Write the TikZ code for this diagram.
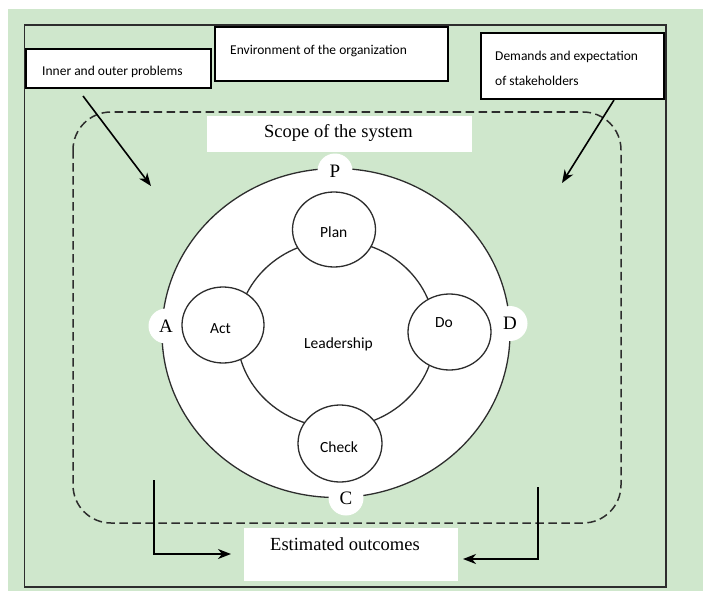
\documentclass[tikz,border=0pt]{standalone}
\usepackage{fontspec}
\setmainfont{Liberation Serif}
\newfontfamily\calfont{Carlito}
\usetikzlibrary{shapes.geometric,arrows.meta}
\definecolor{bggreen}{RGB}{207,231,204}
\definecolor{linegray}{RGB}{45,45,45}
\begin{document}
\begin{tikzpicture}[x=1pt,y=-1pt,
  tbox/.style={draw=black, line width=2.4pt, fill=white, rectangle, inner sep=0pt},
  smalltxt/.style={font=\calfont\fontsize{13.5}{16}\selectfont, inner sep=0pt, anchor=base west},
  midtxt/.style={font=\calfont\fontsize{15.5}{18}\selectfont, inner sep=0pt, anchor=base west},
  seriftxt/.style={font=\fontsize{18.5}{22}\selectfont, inner sep=0pt, anchor=base west},
  ring/.style={draw=linegray, line width=1.3pt, ellipse, inner sep=0pt},
  pdca/.style={ring, fill=white},
  bump/.style={circle, fill=white, minimum size=35pt, inner sep=0pt, font=\fontsize{19}{22}\selectfont},
  arr/.style={line width=1.6pt, -{Stealth[length=13pt,width=10pt,inset=4pt]}}
]
\useasboundingbox (0,0) rectangle (703,591);
\fill[bggreen] (8,9) rectangle (703,591);
\draw[linegray, line width=1.5pt] (24.5,25) rectangle (666,587);

% scope
\draw[linegray, line width=1.5pt, dash pattern=on 8.5pt off 4.5pt, rounded corners=38pt] (73,112) rectangle (621,523);
\node[fill=white, minimum width=265pt, minimum height=36pt, inner sep=0pt] (scopebox) at (339.5,134) {};
\node[seriftxt] (scopetxt) at (264,137) {Scope of the system};

% big circle
\node[ring, fill=white, minimum width=348pt, minimum height=329pt] (outer) at (336,333) {};
\node[bump] (P) at (335,171) {P};
\node[bump] (A) at (166,326) {A};
\node[bump] (D) at (510,323.5) {D};
\node[bump] (C) at (346,498) {C};

% ring
\node[ring, minimum width=198pt, minimum height=187pt] (ringel) at (336,334) {};
\node[midtxt] (lead) at (304,348) {Leadership};

% PDCA circles
\node[pdca, minimum width=83pt, minimum height=75pt] (plan) at (334,229.5) {};
\node[pdca, minimum width=82pt, minimum height=76pt] (act) at (223,325) {};
\node[pdca, minimum width=83pt, minimum height=76pt] (do) at (449.5,332) {};
\node[pdca, minimum width=84pt, minimum height=77pt] (check) at (340,443.5) {};
\node[midtxt] (plantxt) at (320,237) {Plan};
\node[midtxt] (acttxt) at (210,333) {Act};
\node[midtxt] (dotxt) at (435,327) {Do};
\node[midtxt] (checktxt) at (320,452) {Check};

% top boxes
\node[tbox, minimum width=185pt, minimum height=39pt] (innerbox) at (118.5,68.5) {};
\node[smalltxt] (innertxt) at (42,76) {Inner and outer problems};
\node[tbox, minimum width=233pt, minimum height=54pt] (envbox) at (331.5,54) {};
\node[smalltxt] (envtxt) at (230,55) {Environment of the organization};
\node[tbox, minimum width=183pt, minimum height=66pt] (dembox) at (572.5,66) {};
\node[smalltxt] (demtxt1) at (495,61) {Demands and expectation};
\node[smalltxt] (demtxt2) at (495,86) {of stakeholders};

% outcomes
\node[fill=white, minimum width=214pt, minimum height=53pt, inner sep=0pt] (outbox) at (351,554.5) {};
\node[seriftxt] (outtxt) at (270,550) {Estimated outcomes};

% arrows
\coordinate (a1s) at (83,96);
\coordinate (a1e) at (151,186);
\coordinate (a2s) at (614,100);
\coordinate (a2e) at (562,183);
\draw[arr] (a1s) -- (a1e);
\draw[arr] (a2s) -- (a2e);
\coordinate (b1s) at (154,480);
\coordinate (b1e) at (231,554);
\coordinate (b2s) at (538,487);
\coordinate (b2e) at (463,559);
\draw[arr] (b1s) |- (b1e);
\draw[arr] (b2s) |- (b2e);
\end{tikzpicture}
\end{document}
